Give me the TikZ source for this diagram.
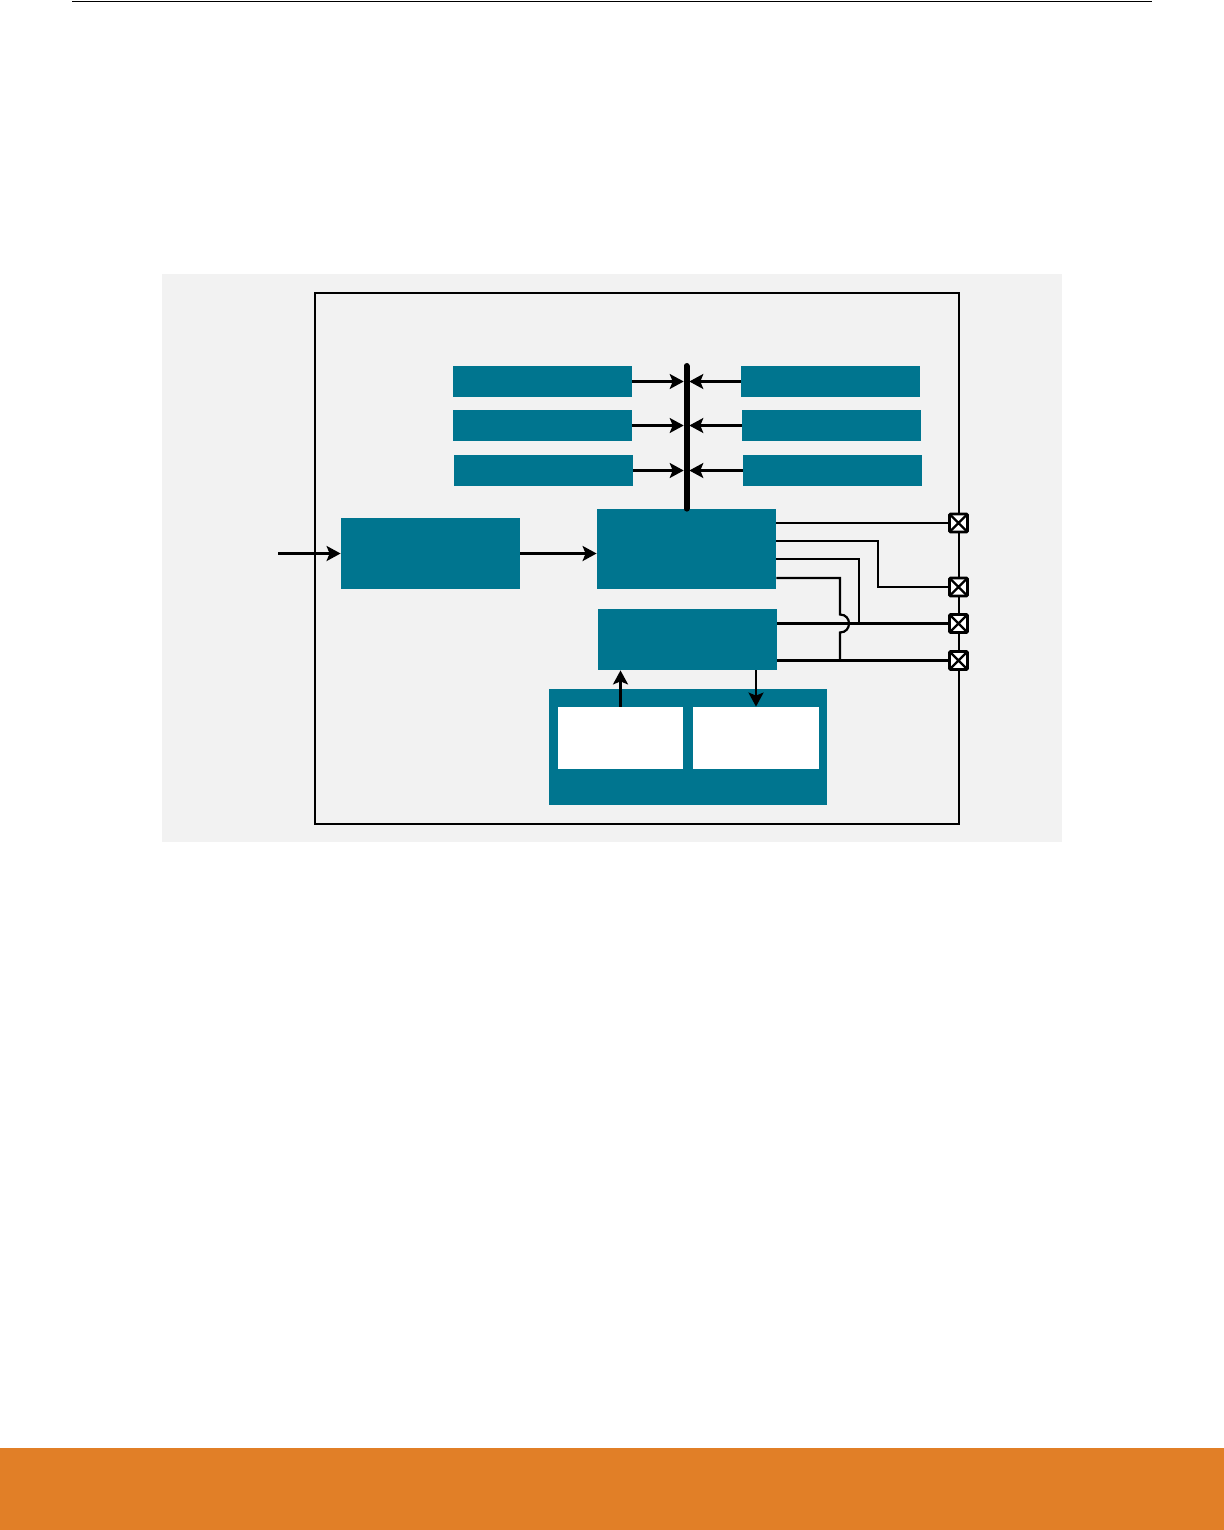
\documentclass[tikz,border=0pt]{standalone}
\usepackage{tikz}
\usetikzlibrary{arrows.meta}

\definecolor{tealblk}{RGB}{0,117,143}
\definecolor{pagegray}{RGB}{242,242,242}
\definecolor{footorange}{RGB}{225,127,39}

\begin{document}
\begin{tikzpicture}[x=0.5pt, y=-0.5pt, >={Stealth[length=7pt, width=7.5pt, inset=1.5pt]}]

    \tikzstyle{teal box} = [rectangle, fill=tealblk, inner sep=0pt];
    \tikzstyle{white box} = [rectangle, fill=white, inner sep=0pt];
    \tikzstyle{pin node} = [rectangle, draw, fill=white, line width=1.4pt,
        inner sep=0pt, minimum size=9pt, rounded corners=0.6pt,
        path picture={\draw[line width=1.1pt] (path picture bounding box.south west) -- (path picture bounding box.north east)
                                             (path picture bounding box.north west) -- (path picture bounding box.south east);}];
    \tikzstyle{wire} = [line width=1.1pt];

    \useasboundingbox (0,0) rectangle (1224,1530);
    \fill[white] (0,0) rectangle (1224,1530);

    % page rule and footer
    \draw[line width=0.8pt] (72,1.5) -- (1152,1.5);
    \fill[footorange] (0,1448) rectangle (1224,1530);

    % Panel background and chip outline
    \fill[pagegray] (162,274) rectangle (1062,842);
    \draw[line width=0.9pt] (315,293) rectangle (959,824);

    % peripheral bars
    \node[teal box, minimum width=89.5pt, minimum height=15.5pt] (l1) at (542.5,381.5) {};
    \node[teal box, minimum width=89.5pt, minimum height=15.5pt] (l2) at (542.5,425.5) {};
    \node[teal box, minimum width=89.5pt, minimum height=15.5pt] (l3) at (543.5,470.5) {};
    \node[teal box, minimum width=89.5pt, minimum height=15.5pt] (r1) at (830.5,381.5) {};
    \node[teal box, minimum width=89.5pt, minimum height=15.5pt] (r2) at (831.5,425.5) {};
    \node[teal box, minimum width=89.5pt, minimum height=15.5pt] (r3) at (832.5,470.5) {};

    % main blocks
    \node[teal box, minimum width=89.5pt, minimum height=35.5pt] (inp) at (430.5,553.5) {};
    \node[teal box, minimum width=89.5pt, minimum height=40pt] (ctrl) at (686.5,549) {};
    \node[teal box, minimum width=89.5pt, minimum height=30.5pt] (low) at (687.5,639.5) {};
    \node[teal box, minimum width=139pt, minimum height=58pt] (mem) at (688,747) {};
    \node[white box, minimum width=62.5pt, minimum height=31pt] (mem1) at (620.5,738) {};
    \node[white box, minimum width=63pt, minimum height=31pt] (mem2) at (756,738) {};

    % pins
    \node[pin node] (p1) at (958.5,523) {};
    \node[pin node] (p2) at (958.5,587) {};
    \node[pin node] (p3) at (958.5,623.5) {};
    \node[pin node] (p4) at (958.5,660.5) {};

    % bus
    \coordinate (bus) at (686.5,366);
    \draw[line width=3pt, line cap=round] (bus) -- (ctrl.north);
    \foreach \s in {l1, l2, l3}
        \draw[->, wire] (\s.east) -- ([xshift=-1.4pt]\s.east -| bus);
    \foreach \s in {r1, r2, r3}
        \draw[->, wire] (\s.west) -- ([xshift=1.4pt]\s.west -| bus);

    % data path
    \coordinate (src) at (278,553.5);
    \draw[->, line width=1.3pt] (src) -- (inp.west);
    \draw[->, line width=1.3pt] (inp.east) -- (inp.east -| ctrl.west);

    % memory links
    \draw[->, line width=1.2pt] (mem1.north) -- (mem1.north |- low.south);
    \draw[->, line width=1.2pt] (mem2.north |- low.south) -- (mem2.north);

    % outputs to pins
    \draw[wire] (ctrl.east |- p1) -- (p1);
    \draw[wire] (ctrl.east |- 0,541) -| (878,587) -- (p2);
    \draw[wire] (ctrl.east |- 0,559) -| (859,623.5);
    \draw[wire] (low.east |- p3) -- (p3);
    \draw[wire] (ctrl.east |- 0,578) -| (840,614.5)
        .. controls (852,614.5) and (852,632.5) .. (840,632.5) -- (840,660.5);
    \draw[wire] (low.east |- p4) -- (p4);

\end{tikzpicture}
\end{document}
